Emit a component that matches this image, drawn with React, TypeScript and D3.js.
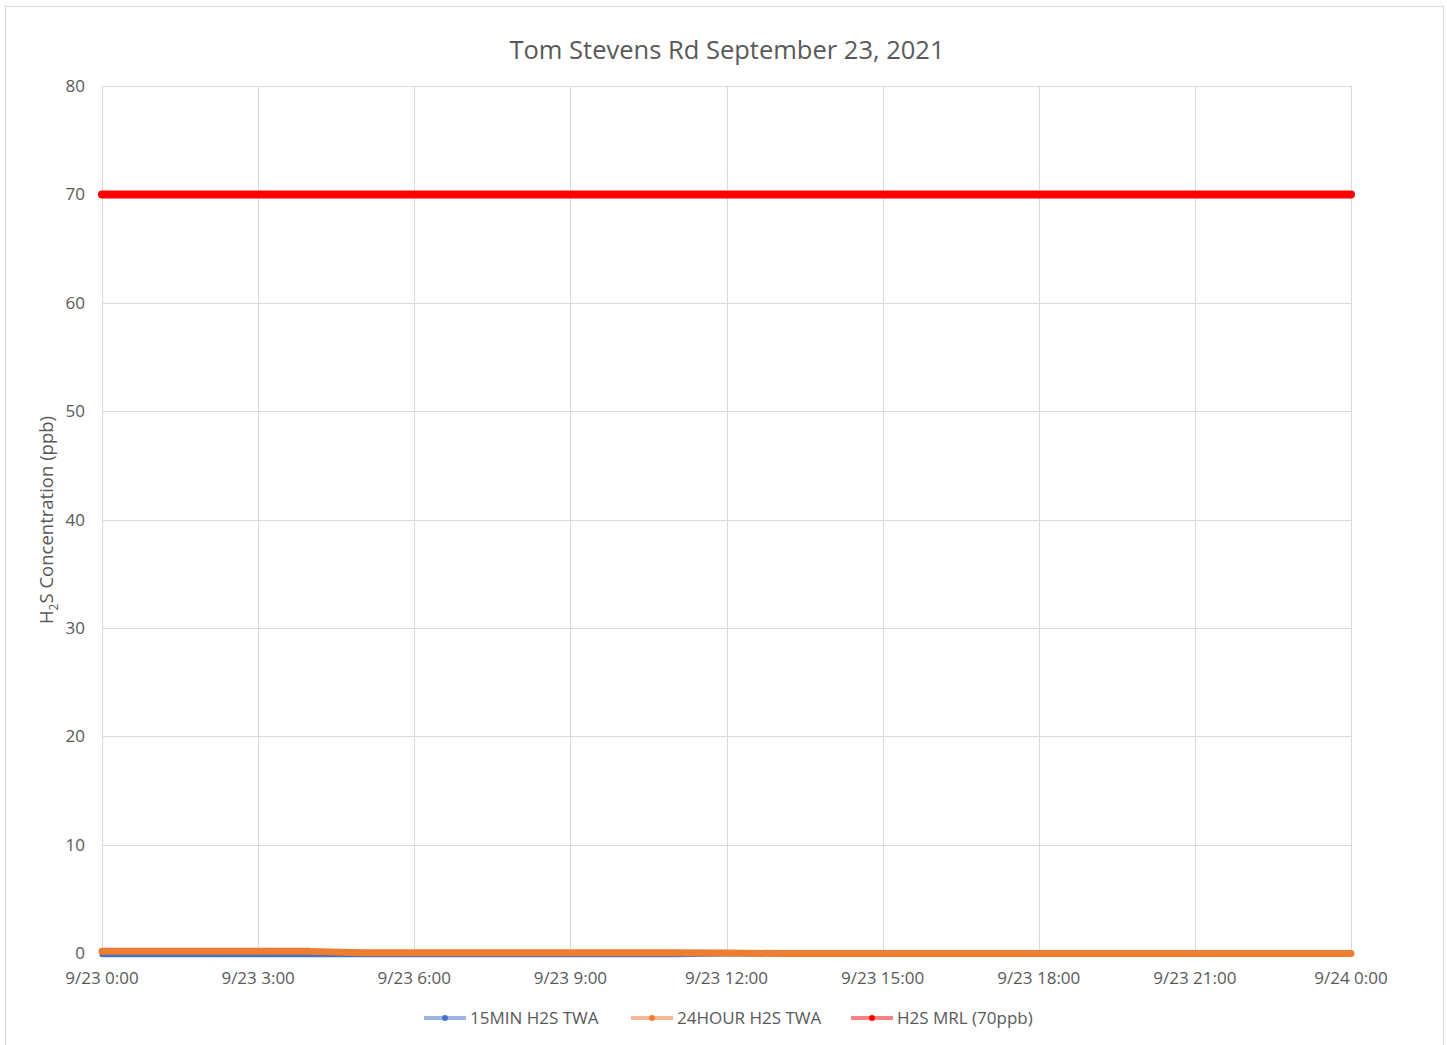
import React, { useEffect, useRef } from 'react';
import * as d3 from 'd3';

// hourly readings, 9/23 0:00 .. 9/24 0:00
const hours = d3.range(0, 25);
const twa15min = [
  -0.15, -0.15, -0.15, -0.15, -0.15, -0.15, -0.15, -0.15, -0.15, -0.15, -0.15, -0.15,
  -0.1, -0.05, -0.05, -0.05, -0.05, -0.05, -0.05, -0.05, -0.05, -0.05, -0.05, -0.05, -0.05,
];
const twa24hour = [
  0.15, 0.15, 0.15, 0.15, 0.15, 0.03, 0.03, 0.03, 0.03, 0.03, 0.03, 0.03,
  0.0, -0.05, -0.05, -0.05, -0.05, -0.05, -0.05, -0.05, -0.05, -0.05, -0.05, -0.05, -0.05,
];
const mrl = [
  70, 70, 70, 70, 70, 70, 70, 70, 70, 70, 70, 70,
  70, 70, 70, 70, 70, 70, 70, 70, 70, 70, 70, 70, 70,
];
const yTicks = [0, 10, 20, 30, 40, 50, 60, 70, 80];

const series = [
  { name: '15MIN H2S TWA', values: twa15min, color: '#4472c4', legend: '#9db4e0', width: 5 },
  { name: '24HOUR H2S TWA', values: twa24hour, color: '#ed7d31', legend: '#f5b894', width: 7 },
  { name: 'H2S MRL (70ppb)', values: mrl, color: '#ff0000', legend: '#ff8080', width: 8 },
];

const W = 1447;
const H = 1045;
const margin = { left: 102, right: 96, top: 86, bottom: 92 };
const FONT = "'Open Sans', sans-serif";

const App: React.FC = () => {
  const svgRef = useRef<SVGSVGElement>(null);

  useEffect(() => {
    const svg = d3.select(svgRef.current);
    svg.selectAll('*').remove();

    const start = new Date(2021, 8, 23, 0, 0);
    const end = new Date(2021, 8, 24, 0, 0);
    const x = d3.scaleTime().domain([start, end]).range([margin.left, W - margin.right]);
    const y = d3.scaleLinear().domain([0, 80]).range([H - margin.bottom, margin.top]);
    const toDate = (h: number) => d3.timeHour.offset(start, h);

    // chart area border
    svg.append('rect')
      .attr('x', 5.5).attr('y', 6.5)
      .attr('width', 1438).attr('height', 1060)
      .attr('fill', 'white')
      .attr('stroke', '#d9d9d9');

    svg.append('text')
      .attr('x', 727).attr('y', 59)
      .attr('text-anchor', 'middle')
      .attr('font-family', FONT)
      .attr('font-size', 25.5)
      .attr('fill', '#595959')
      .text('Tom Stevens Rd September 23, 2021');

    const xTicks = d3.timeHour.every(3)!.range(start, d3.timeHour.offset(end, 1));
    const fmt = d3.timeFormat('%-m/%-d %-H:%M');

    // gridlines
    svg.append('g').selectAll('line').data(yTicks).join('line')
      .attr('x1', margin.left).attr('x2', W - margin.right)
      .attr('y1', d => Math.round(y(d)) + 0.5).attr('y2', d => Math.round(y(d)) + 0.5)
      .attr('stroke', '#d9d9d9');
    svg.append('g').selectAll('line').data(xTicks).join('line')
      .attr('x1', d => Math.round(x(d)) + 0.5).attr('x2', d => Math.round(x(d)) + 0.5)
      .attr('y1', margin.top).attr('y2', H - margin.bottom)
      .attr('stroke', '#d9d9d9');

    // tick labels
    svg.append('g').selectAll('text').data(yTicks).join('text')
      .attr('x', 85).attr('y', d => y(d) + 6)
      .attr('text-anchor', 'end')
      .attr('font-family', FONT).attr('font-size', 17).attr('fill', '#595959')
      .text(d => d);
    svg.append('g').selectAll('text').data(xTicks).join('text')
      .attr('x', d => x(d)).attr('y', 984)
      .attr('text-anchor', 'middle')
      .attr('font-family', FONT).attr('font-size', 17).attr('fill', '#595959')
      .text(d => fmt(d));

    // y axis title with subscript
    const yt = svg.append('text')
      .attr('transform', 'translate(53,520) rotate(-90)')
      .attr('text-anchor', 'middle')
      .attr('font-family', FONT).attr('font-size', 18.5).attr('fill', '#595959');
    yt.append('tspan').text('H');
    yt.append('tspan').attr('font-size', 12).attr('dy', 5).text('2');
    yt.append('tspan').attr('dy', -5).text('S Concentration (ppb)');

    // series lines
    const line = d3.line<number>()
      .x((_, i) => x(toDate(hours[i])))
      .y(d => y(d));
    series.forEach(s => {
      svg.append('path')
        .attr('d', line(s.values))
        .attr('fill', 'none')
        .attr('stroke', s.color)
        .attr('stroke-width', s.width)
        .attr('stroke-linecap', 'round')
        .attr('stroke-linejoin', 'round');
    });

    // legend
    const legendX = [424, 631, 851];
    const lg = svg.append('g');
    series.forEach((s, i) => {
      const g = lg.append('g').attr('transform', `translate(${legendX[i]},1018)`);
      g.append('line').attr('x1', 0).attr('x2', 42).attr('y1', 0).attr('y2', 0)
        .attr('stroke', s.legend).attr('stroke-width', 4);
      g.append('circle').attr('cx', 21).attr('cy', 0).attr('r', 3).attr('fill', s.color);
      g.append('text').attr('x', 46).attr('y', 6)
        .attr('font-family', FONT).attr('font-size', 17).attr('fill', '#595959')
        .text(s.name);
    });
  }, []);

  return (
    <div style={{ position: 'absolute', left: 0, top: 0 }}>
      <svg ref={svgRef} width={W} height={H} style={{ display: 'block' }} />
    </div>
  );
};

export default App;
